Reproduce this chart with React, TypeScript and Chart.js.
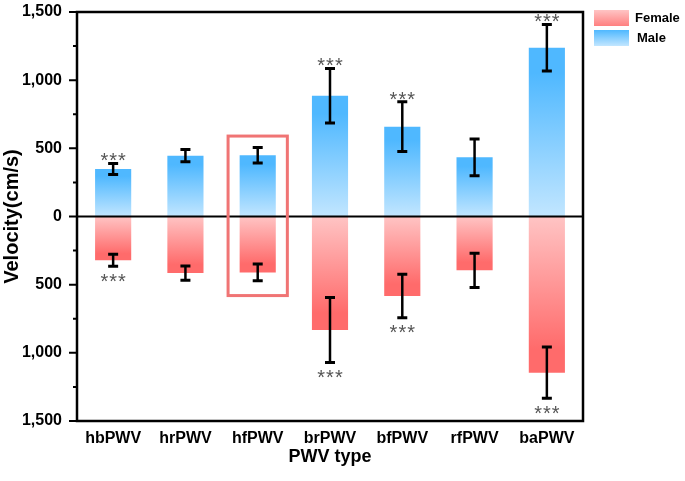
import React, { useEffect, useRef } from "react";
import { Chart, registerables } from "chart.js";

Chart.register(...registerables);

const categories = ["hbPWV", "hrPWV", "hfPWV", "brPWV", "bfPWV", "rfPWV", "baPWV"];
const maleValues = [348, 446, 450, 886, 659, 434, 1238];
const maleErrors = [40, 45, 57, 200, 183, 135, 170];
const femaleValues = [321, 415, 410, 833, 583, 395, 1146];
const femaleErrors = [44, 52, 61, 238, 160, 125, 188];
const maleSig = ["***", "", "", "***", "***", "", "***"];
const femaleSig = ["***", "", "", "***", "***", "", "***"];
const yTickValues = [-1500, -1000, -500, 0, 500, 1000, 1500];
const yMinorValues = [-1250, -750, -250, 250, 750, 1250];
const highlightIndex = 2;
const highlightTop = 590;
const highlightBottom = -580;

const FONT = "'Liberation Sans', Arial, Helvetica, sans-serif";
const MALE_DARK = "#4fb8ff";
const MALE_LIGHT = "#c2e6ff";
const FEMALE_DARK = "#ff6b6b";
const FEMALE_LIGHT = "#ffc4c4";

function barGradient(ctx: any, dark: string, light: string) {
  const chart = ctx.chart;
  if (!chart.chartArea || ctx.type !== "data") return dark;
  const ys = chart.scales.y;
  const v = ctx.parsed ? ctx.parsed.y : ctx.raw;
  const p = ys.getPixelForValue(v);
  const z = ys.getPixelForValue(0);
  if (!isFinite(p) || !isFinite(z) || p === z) return dark;
  const g = chart.ctx.createLinearGradient(0, p, 0, z);
  g.addColorStop(0, dark);
  g.addColorStop(0.15, dark);
  g.addColorStop(1, light);
  return g;
}

const overlayPlugin = {
  id: "overlay",
  afterDatasetsDraw(chart: any) {
    const { ctx, chartArea } = chart;
    const xs = chart.scales.x;
    const ys = chart.scales.y;
    ctx.save();
    const z = ys.getPixelForValue(0);
    ctx.strokeStyle = "#000";
    ctx.lineWidth = 2;
    ctx.beginPath();
    ctx.moveTo(chartArea.left, z);
    ctx.lineTo(chartArea.right, z);
    ctx.stroke();

    const drawErr = (i: number, v: number, e: number) => {
      const x = xs.getPixelForValue(i);
      const a = ys.getPixelForValue(v - e);
      const b = ys.getPixelForValue(v + e);
      ctx.strokeStyle = "#000";
      ctx.lineWidth = 2.5;
      ctx.beginPath();
      ctx.moveTo(x, a);
      ctx.lineTo(x, b);
      ctx.stroke();
      ctx.lineWidth = 3;
      ctx.beginPath();
      ctx.moveTo(x - 5, a);
      ctx.lineTo(x + 5, a);
      ctx.moveTo(x - 5, b);
      ctx.lineTo(x + 5, b);
      ctx.stroke();
    };
    categories.forEach((_, i) => {
      drawErr(i, maleValues[i], maleErrors[i]);
      drawErr(i, -femaleValues[i], femaleErrors[i]);
    });

    ctx.fillStyle = "#555";
    ctx.font = `20px ${FONT}`;
    ctx.textAlign = "center";
    ctx.textBaseline = "alphabetic";
    try { (ctx as any).letterSpacing = "1px"; } catch (e) {}
    categories.forEach((_, i) => {
      const x = xs.getPixelForValue(i) + 0.5;
      if (maleSig[i]) {
        const top = ys.getPixelForValue(maleValues[i] + maleErrors[i]);
        ctx.fillText(maleSig[i], x, top - 8 + 11.8);
      }
      if (femaleSig[i]) {
        const bot = ys.getPixelForValue(-femaleValues[i] - femaleErrors[i]);
        ctx.fillText(femaleSig[i], x, bot + 9.5 + 11.8);
      }
    });
    try { (ctx as any).letterSpacing = "0px"; } catch (e) {}

    const bl = xs.getPixelForValue(highlightIndex - 0.41);
    const br = xs.getPixelForValue(highlightIndex + 0.41);
    const bt = ys.getPixelForValue(highlightTop);
    const bb = ys.getPixelForValue(highlightBottom);
    ctx.strokeStyle = "#f07474";
    ctx.lineWidth = 3;
    ctx.strokeRect(bl, bt, br - bl, bb - bt);
    ctx.restore();
  },
  afterDraw(chart: any) {
    const { ctx, chartArea } = chart;
    const ys = chart.scales.y;
    ctx.save();
    ctx.strokeStyle = "#000";
    ctx.lineWidth = 2.5;
    ctx.strokeRect(chartArea.left, chartArea.top, chartArea.right - chartArea.left, chartArea.bottom - chartArea.top);
    ctx.lineWidth = 2;
    ctx.beginPath();
    yTickValues.forEach((v) => {
      const y = ys.getPixelForValue(v);
      ctx.moveTo(chartArea.left - 8, y);
      ctx.lineTo(chartArea.left, y);
    });
    yMinorValues.forEach((v) => {
      const y = ys.getPixelForValue(v);
      ctx.moveTo(chartArea.left - 4, y);
      ctx.lineTo(chartArea.left, y);
    });
    ctx.stroke();

    const lx = chartArea.right + 11;
    const drawSwatch = (y: number, c0: string, c1: string, label: string, tx: number) => {
      const g = ctx.createLinearGradient(0, y, 0, y + 16);
      g.addColorStop(0, c0);
      g.addColorStop(1, c1);
      ctx.fillStyle = g;
      ctx.fillRect(lx, y, 35, 16);
      ctx.fillStyle = "#000";
      ctx.font = `bold 13px ${FONT}`;
      ctx.textAlign = "left";
      ctx.textBaseline = "middle";
      ctx.fillText(label, tx, y + 8);
    };
    drawSwatch(10, FEMALE_LIGHT, "#ff8080", "Female", lx + 41);
    drawSwatch(30, MALE_DARK, MALE_LIGHT, "Male", lx + 43);
    ctx.restore();
  },
};

export default function App() {
  const ref = useRef<HTMLCanvasElement | null>(null);
  useEffect(() => {
    if (!ref.current) return;
    Chart.defaults.font.family = FONT;
    const chart = new Chart(ref.current, {
      type: "bar",
      data: {
        labels: categories,
        datasets: [
          {
            label: "Male",
            data: maleValues,
            backgroundColor: (c: any) => barGradient(c, MALE_DARK, MALE_LIGHT),
            barPercentage: 0.5,
            categoryPercentage: 1,
          },
          {
            label: "Female",
            data: femaleValues.map((v) => -v),
            backgroundColor: (c: any) => barGradient(c, FEMALE_DARK, FEMALE_LIGHT),
            barPercentage: 0.5,
            categoryPercentage: 1,
          },
        ],
      },
      plugins: [overlayPlugin],
      options: {
        animation: false,
        responsive: false,
        devicePixelRatio: 1,
        layout: { padding: { top: 12, right: 102, left: 0, bottom: 0 } },
        plugins: { legend: { display: false }, tooltip: { enabled: false } },
        scales: {
          x: {
            stacked: true,
            grid: { display: false, drawTicks: false },
            border: { display: false },
            ticks: { color: "#000", font: { size: 16, weight: "bold" }, padding: 8, maxRotation: 0 },
            title: { display: true, text: "PWV type", color: "#000", font: { size: 18, weight: "bold" }, padding: { top: 13, bottom: 13 } },
            afterFit: (s: any) => { s.height = 60; s.paddingLeft = 0; s.paddingRight = 0; },
          },
          y: {
            stacked: true,
            min: -1500,
            max: 1500,
            grid: { display: false, drawTicks: false },
            border: { display: false },
            afterBuildTicks: (s: any) => { s.ticks = yTickValues.map((v) => ({ value: v })); },
            ticks: {
              color: "#000",
              font: { size: 16, weight: "bold" },
              padding: 15,
              callback: (v: any) => Math.abs(Number(v)).toLocaleString("en-US"),
            },
            title: { display: true, text: "Velocity(cm/s)", color: "#000", font: { size: 20, weight: "bold" }, padding: 0 },
            afterFit: (s: any) => { s.width = 77; s.paddingTop = 0; s.paddingBottom = 0; },
          },
        },
      } as any,
    });
    return () => chart.destroy();
  }, []);
  return (
    <div style={{ position: "absolute", left: 0, top: 0, width: 685, height: 481, background: "#fff" }}>
      <canvas ref={ref} width={685} height={481} style={{ width: 685, height: 481 }} />
    </div>
  );
}
